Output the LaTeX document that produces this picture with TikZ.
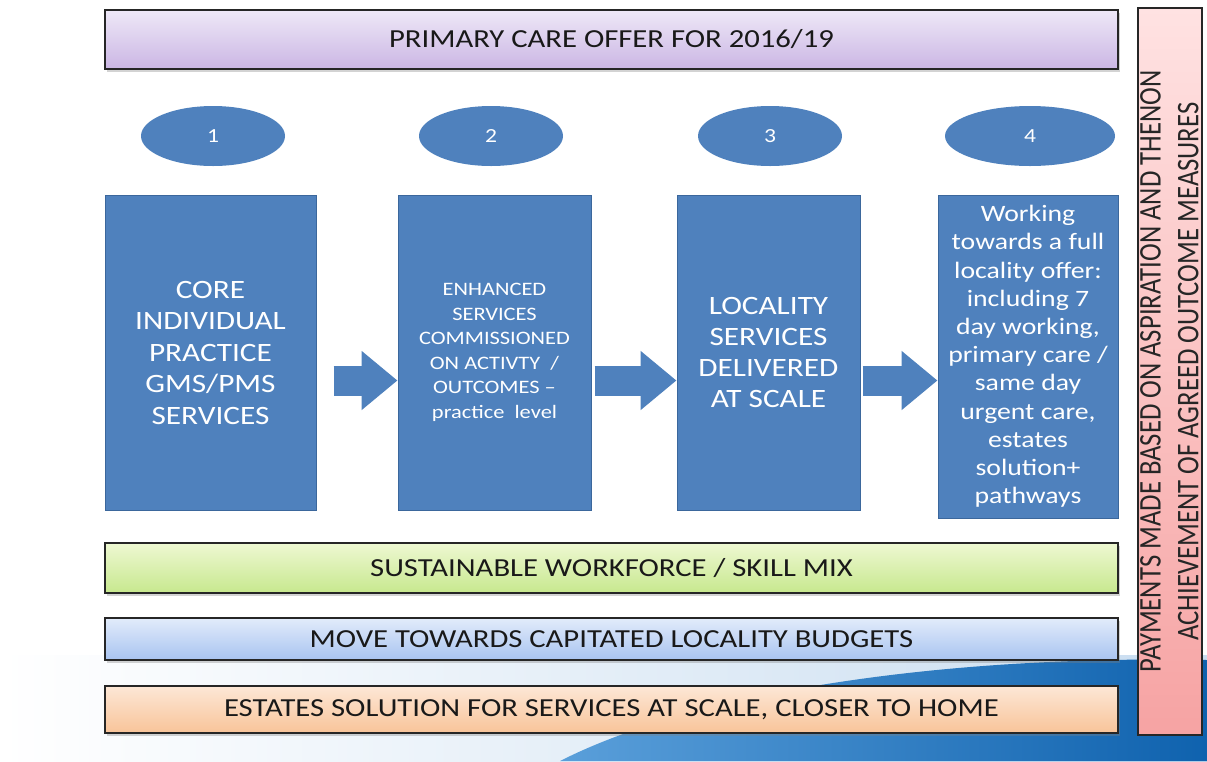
\documentclass[tikz,border=0pt]{standalone}
\usepackage{fontspec}
\setmainfont{Carlito}[FakeStretch=1.18]
\newfontfamily\plainfont{Carlito}
\usetikzlibrary{shapes.geometric,arrows.meta,shadows}

\definecolor{stepblue}{HTML}{4F81BD}
\definecolor{stepedge}{HTML}{3B679C}
\definecolor{swirlpale}{HTML}{C9DDF0}
\definecolor{swirldeep}{HTML}{0F62AE}
\definecolor{swirlmid}{HTML}{5A9FDA}
\definecolor{offertop}{HTML}{EEE8F7}
\definecolor{offerbot}{HTML}{CBB6E4}
\definecolor{worktop}{HTML}{EEF8D2}
\definecolor{workbot}{HTML}{C7E88E}
\definecolor{budgettop}{HTML}{E2ECFB}
\definecolor{budgetbot}{HTML}{A8C3F0}
\definecolor{estatetop}{HTML}{FDE7D6}
\definecolor{estatebot}{HTML}{F8C499}
\definecolor{paytop}{HTML}{FFE2E2}
\definecolor{paybot}{HTML}{F6A3A3}

\tikzset{
	band/.style={draw=black!85, line width=1.6pt, inner sep=0pt, minimum width=1013pt,
		minimum height=#1, font=\fontsize{26}{30}\selectfont, text=black!90,
		drop shadow={opacity=0.35, shadow xshift=2pt, shadow yshift=-3pt}},
	stepbox/.style={draw=stepedge, line width=1pt, fill=stepblue, text=white, inner sep=0pt,
		align=center, minimum height=315pt},
	stepnum/.style={ellipse, fill=stepblue, text=white, minimum width=144pt, minimum height=60pt,
		inner sep=0pt, font=\fontsize{20}{24}\selectfont},
	bigarrow/.style={draw=stepblue, line width=30pt,
		-{Triangle[length=36pt 0 0, width=57pt 0 0]}}
}

\begin{document}
\begin{tikzpicture}[x=1pt, y=-1pt]
\useasboundingbox (0,0) rectangle (1207,761);

% backdrop swoosh
\shade[left color=white, right color=swirlpale] (0,655) rectangle (1207,761);
\shade[left color=swirlmid, right color=swirldeep] (560,761) .. controls (700,690) and (950,655) .. (1207,660) -- (1207,761) -- cycle;

% bands across the top and bottom
\node[band=59pt, top color=offertop, bottom color=offerbot] (offer) at (611.5,39.5) {PRIMARY CARE OFFER FOR 2016/19};
\node[band=50pt, top color=worktop, bottom color=workbot] (workforce) at (611.5,568) {SUSTAINABLE WORKFORCE / SKILL MIX};
\node[band=42pt, top color=budgettop, bottom color=budgetbot] (budgets) at (611.5,639) {MOVE TOWARDS CAPITATED LOCALITY BUDGETS};
\node[band=47pt, top color=estatetop, bottom color=estatebot] (estates) at (611.5,709.5) {ESTATES SOLUTION FOR SERVICES AT SCALE, CLOSER TO HOME};

% payments column
\node[draw=black!85, line width=1.6pt, top color=paytop, bottom color=paybot, minimum width=64pt,
	minimum height=727pt, inner sep=0pt] (payments) at (1170,371.5) {};
\node[rotate=90, inner sep=0pt, font=\plainfont\fontsize{26.7}{32}\selectfont, text=black!85] (paytext) at ([xshift=2pt]payments.center)
	{\scalebox{1}[1.18]{\begin{tabular}{@{}c@{}}PAYMENTS MADE BASED ON ASPIRATION AND THENON\\ACHIEVEMENT OF AGREED OUTCOME MEASURES\end{tabular}}};

% numbered steps
\node[stepnum] (n1) at (213,136) {1};
\node[stepnum] (n2) at (491,136) {2};
\node[stepnum] (n3) at (770,136) {3};
\node[stepnum, minimum width=170pt] (n4) at (1030,136) {4};

\node[stepbox, minimum width=211pt, font=\fontsize{26.5}{31.5}\selectfont] (core) at (210.5,352.5)
	{CORE\\INDIVIDUAL\\PRACTICE\\GMS/PMS\\SERVICES};
\node[stepbox, minimum width=193pt, font=\fontsize{19}{24.5}\selectfont] (enhanced) at (494.5,352.5)
	{ENHANCED\\SERVICES\\COMMISSIONED\\ON ACTIVTY~~/\\OUTCOMES --\\practice~~level};
\node[stepbox, minimum width=183pt, font=\fontsize{26.5}{31}\selectfont] (locality) at (768.5,352.5)
	{LOCALITY\\SERVICES\\DELIVERED\\AT SCALE};
\node[stepbox, minimum width=180pt, minimum height=323pt, font=\fontsize{23.5}{28.2}\selectfont] (full) at (1028,356.5)
	{Working\\towards a full\\locality offer:\\including 7\\day working,\\primary care /\\same day\\urgent care,\\estates\\solution+\\pathways};

% block arrows
\draw[bigarrow] ([xshift=17pt, yshift=-28pt]core.east) -- ([yshift=-28pt]enhanced.west);
\draw[bigarrow] ([xshift=3pt, yshift=-28pt]enhanced.east) -- ([yshift=-28pt]locality.west);
\draw[bigarrow] ([xshift=2pt, yshift=-28pt]locality.east) -- ([yshift=-24pt]full.west);
\end{tikzpicture}
\end{document}
